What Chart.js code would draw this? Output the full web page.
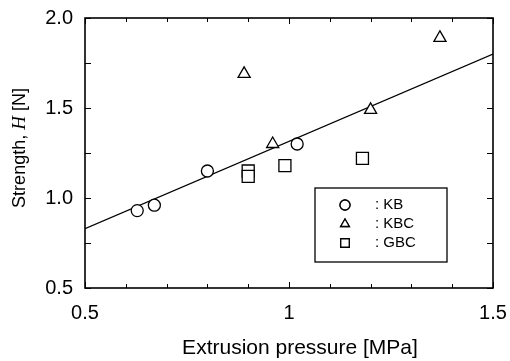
<!DOCTYPE html>
<html>
<head>
<meta charset="utf-8">
<script src="https://cdn.jsdelivr.net/npm/chart.js@4.4.1/dist/chart.umd.min.js"></script>
<style>
html,body{margin:0;padding:0;background:#fff;}
#wrap{width:510px;height:361px;position:relative;}
</style>
</head>
<body>
<div id="wrap"><canvas id="c" width="510" height="361"></canvas></div>
<script>
// Data
const kbX = [0.628, 0.67, 0.80, 1.02];
const kbY = [0.93, 0.96, 1.15, 1.30];
const kbcX = [0.89, 0.96, 1.20, 1.37];
const kbcY = [1.69, 1.30, 1.49, 1.89];
const gbcX = [0.90, 0.90, 0.99, 1.18];
const gbcY = [1.15, 1.12, 1.18, 1.22];
const fitX = [0.5, 1.5];
const fitY = [0.83, 1.80];
const xTickLabels = {"0.5": "0.5", "1.0": "1", "1.5": "1.5"};
const yTickLabels = {"0.50": "0.5", "1.00": "1.0", "1.50": "1.5", "2.00": "2.0"};
const legendLabels = [": KB", ": KBC", ": GBC"];
const legendStyles = ["circle", "triangle", "rect"];
const xTitle = "Extrusion pressure [MPa]";

const pts = (xs, ys) => xs.map((x, i) => ({x: x, y: ys[i]}));
const FONT = "'Liberation Sans', Arial, sans-serif";

const markerBase = {
  showLine: false,
  backgroundColor: '#fff',
  borderColor: '#000',
  borderWidth: 1.3,
  pointBackgroundColor: '#fff',
  pointBorderColor: '#000',
  pointBorderWidth: 1.3
};

const frameTicks = {
  id: 'frameTicks',
  afterDatasetsDraw(chart) {
    const {ctx, chartArea: a, scales: {x, y}} = chart;
    ctx.save();
    ctx.strokeStyle = '#000';
    ctx.lineWidth = 1;
    for (let i = 0; i <= 10; i++) {
      const v = 0.5 + i * 0.1;
      const px = Math.round(x.getPixelForValue(v)) + 0.5;
      const len = (i % 5 === 0) ? 6 : 4;
      ctx.beginPath();
      ctx.moveTo(px, a.bottom); ctx.lineTo(px, a.bottom - len);
      ctx.moveTo(px, a.top); ctx.lineTo(px, a.top + len);
      ctx.stroke();
    }
    for (let i = 0; i <= 6; i++) {
      const v = 0.5 + i * 0.25;
      const py = Math.round(y.getPixelForValue(v)) + 0.5;
      const len = 6;
      ctx.beginPath();
      ctx.moveTo(a.left, py); ctx.lineTo(a.left + len, py);
      ctx.moveTo(a.right, py); ctx.lineTo(a.right - len, py);
      ctx.stroke();
    }
    ctx.lineWidth = 1.6;
    ctx.strokeRect(a.left, a.top, a.right - a.left, a.bottom - a.top);

    // legend box inside plot
    const bx = x.getPixelForValue(0.5) + 230, by = y.getPixelForValue(2.0) + 170;
    ctx.lineWidth = 1.3;
    ctx.strokeRect(bx, by, 132, 74);
    ctx.font = "15px " + FONT;
    ctx.textBaseline = 'middle';
    ctx.textAlign = 'left';
    for (let i = 0; i < legendLabels.length; i++) {
      const ry = by + 17 + i * 19;
      ctx.fillStyle = '#fff';
      Chart.helpers.drawPoint(ctx, {pointStyle: legendStyles[i], radius: legendStyles[i] === 'rect' ? 6 : 5, rotation: 0, borderWidth: 1.3}, bx + 30, ry);
      ctx.fill(); ctx.stroke();
      ctx.fillStyle = '#000';
      ctx.fillText(legendLabels[i], bx + 60, ry);
    }

    // x-axis title
    ctx.font = "21px " + FONT;
    ctx.textAlign = 'center';
    ctx.fillText(xTitle, (a.left + a.right) / 2 + 11, 348);

    // y-axis title with italic H
    ctx.textAlign = 'left';
    const segs = [
      {t: "Strength, ", f: "18px " + FONT},
      {t: "H", f: "italic 19px 'Liberation Serif', serif"},
      {t: " [N]", f: "18px " + FONT}
    ];
    let total = 0;
    segs.forEach(s => { ctx.font = s.f; s.w = ctx.measureText(s.t).width; total += s.w; });
    ctx.translate(20, 148);
    ctx.rotate(-Math.PI / 2);
    let cx = -total / 2;
    segs.forEach(s => { ctx.font = s.f; ctx.fillText(s.t, cx, 0); cx += s.w; });
    ctx.restore();
  }
};

new Chart(document.getElementById('c'), {
  type: 'scatter',
  data: {
    datasets: [
      Object.assign({label: 'KB', data: pts(kbX, kbY), pointStyle: 'circle', pointRadius: 6}, markerBase),
      Object.assign({label: 'KBC', data: pts(kbcX, kbcY), pointStyle: 'triangle', pointRadius: 7}, markerBase),
      Object.assign({label: 'GBC', data: pts(gbcX, gbcY), pointStyle: 'rect', pointRadius: 8.5}, markerBase),
      {label: 'fit', data: pts(fitX, fitY), showLine: true, pointRadius: 0, borderColor: '#000', borderWidth: 1.2, fill: false, order: 5}
    ]
  },
  options: {
    responsive: false,
    animation: false,
    events: [],
    layout: {padding: {top: 18, right: 17, left: 0, bottom: 0}},
    plugins: {legend: {display: false}, tooltip: {enabled: false}},
    scales: {
      x: {
        type: 'linear', min: 0.5, max: 1.5,
        border: {display: false},
        grid: {display: false, drawTicks: false},
        ticks: {
          stepSize: 0.5, padding: 13, color: '#000', maxRotation: 0,
          font: {family: FONT, size: 20},
          callback: v => xTickLabels[Number(v).toFixed(1)] || ''
        },
        afterFit: s => { s.height = 73; s.paddingLeft = 0; s.paddingRight = 0; }
      },
      y: {
        type: 'linear', min: 0.5, max: 2.0,
        border: {display: false},
        grid: {display: false, drawTicks: false},
        ticks: {
          stepSize: 0.5, padding: 12, color: '#000',
          font: {family: FONT, size: 20},
          callback: v => yTickLabels[Number(v).toFixed(2)] || ''
        },
        afterFit: s => { s.width = 85; s.paddingTop = 0; s.paddingBottom = 0; }
      }
    }
  },
  plugins: [frameTicks]
});
</script>
</body>
</html>
